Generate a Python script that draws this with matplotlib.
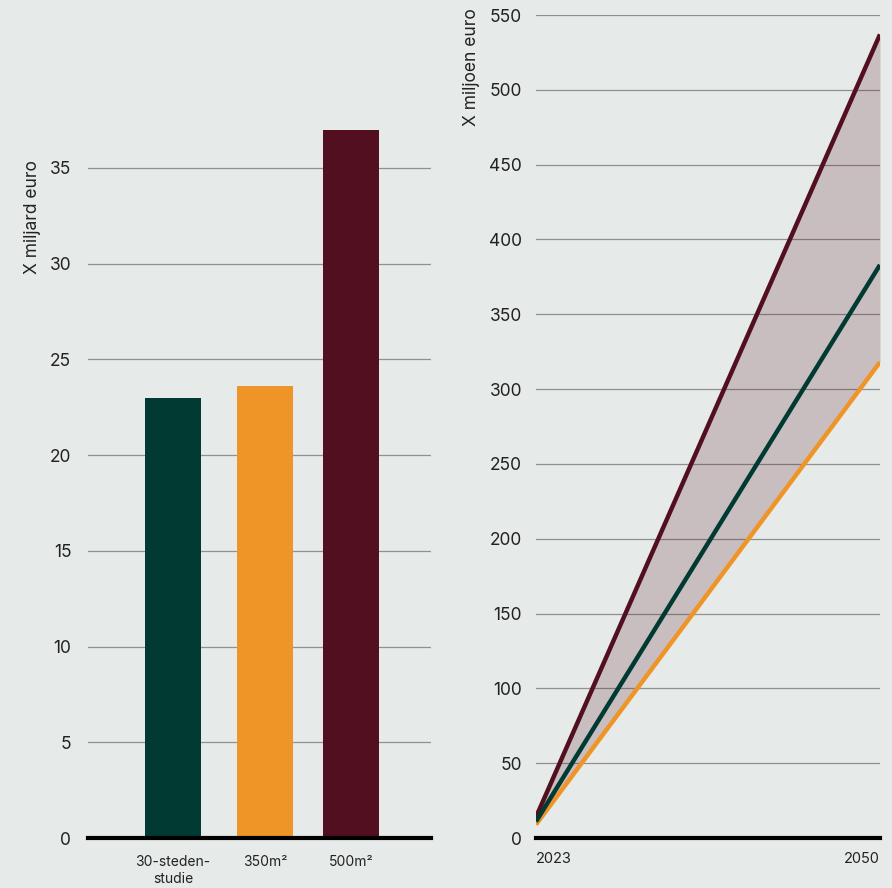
import matplotlib.pyplot as plt

plt.rcParams['font.family'] = ['Inter', 'DejaVu Sans']

# data
categories = ['30-steden-\nstudie', '350m²', '500m²']
bar_values = [23.0, 23.6, 37.0]
bar_colors = ['#003a33', '#ef9427', '#520f20']

years = [2023, 2050]
high = [14, 537]     # 500m2
mid = [11, 383]      # 30-steden
low = [9, 318]       # 350m2

left_ticks = [0, 5, 10, 15, 20, 25, 30, 35]
right_ticks = list(range(0, 551, 50))

bg = '#e6eae8'
grid_col = '#909090'

fig = plt.figure(figsize=(8.92, 8.88), dpi=100)
fig.patch.set_facecolor(bg)

# left: bar chart
ax1 = fig.add_axes([0.0987, 0.0563, 0.3845, 0.8192])
ax1.set_facecolor(bg)
pos = [0, 1.035, 2]
ax1.bar(pos, bar_values, width=0.63, color=bar_colors, zorder=3)
ax1.set_xlim(-0.955, 2.9)
ax1.set_ylim(0, 38)
ax1.set_yticks(left_ticks)
ax1.set_yticklabels([str(t) for t in left_ticks], fontsize=12.5, color='#222222')
for t in left_ticks[1:]:
    ax1.axhline(t, color=grid_col, lw=0.9, zorder=1)
ax1.axhline(0, color='black', lw=3, zorder=4, clip_on=False)
ax1.set_xticks(pos)
ax1.set_xticklabels(categories, fontsize=10, color='#222222', linespacing=1.3)
ax1.tick_params(axis='both', length=0)
ax1.tick_params(axis='x', pad=12)
ax1.tick_params(axis='y', pad=12)
for s in ax1.spines.values():
    s.set_visible(False)
fig.text(0.036, 1 - 160 / 888, 'X miljard euro', rotation=90, ha='center', va='top',
         fontsize=12.5, color='#222222')

# right: line chart
ax2 = fig.add_axes([0.6009, 0.0563, 0.3856, 0.9268])
ax2.set_facecolor(bg)
ax2.set_xlim(2023, 2050)
ax2.set_ylim(0, 550)
for t in right_ticks[1:]:
    ax2.axhline(t, color=grid_col, lw=0.9, zorder=1)
ax2.fill_between(years, low, high, color='#520f20', alpha=0.2, lw=0, zorder=2)
ax2.plot(years, high, color='#520f20', lw=3.2, zorder=3, solid_capstyle='butt')
ax2.plot(years, mid, color='#003a33', lw=3.2, zorder=4, solid_capstyle='butt')
ax2.plot(years, low, color='#ef9427', lw=3.2, zorder=3, solid_capstyle='butt')
ax2.axhline(0, color='black', lw=3, zorder=5, clip_on=False)
ax2.set_yticks(right_ticks)
ax2.set_yticklabels([str(t) for t in right_ticks], fontsize=12.5, color='#222222')
ax2.set_xticks(years)
xl = ax2.set_xticklabels([str(y) for y in years], fontsize=10.5, color='#222222')
xl[0].set_ha('left')
xl[1].set_ha('right')
ax2.tick_params(axis='both', length=0)
ax2.tick_params(axis='x', pad=10)
ax2.tick_params(axis='y', pad=10)
for s in ax2.spines.values():
    s.set_visible(False)
fig.text(0.529, 1 - 8 / 888, 'X miljoen euro', rotation=90, ha='center', va='top',
         fontsize=12.5, color='#222222')

fig.savefig('out.png', dpi=100, facecolor=bg)
